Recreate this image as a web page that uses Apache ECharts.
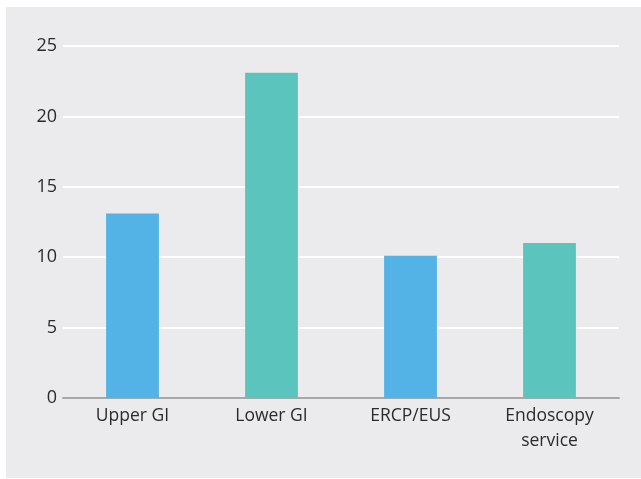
<!DOCTYPE html>
<html><head><meta charset="utf-8">
<script src="https://cdn.jsdelivr.net/npm/echarts@6/dist/echarts.min.js"></script>
<style>
html,body{margin:0;padding:0;background:#fff;}
#panel{position:absolute;left:6px;top:7px;width:635px;height:471px;background:#ebebed;}
#c{position:absolute;left:0;top:0;width:641px;height:479px;}
</style></head>
<body><div id="panel"></div><div id="c"></div>
<script>
const categories = ["Upper GI", "Lower GI", "ERCP/EUS", "Endoscopy\nservice"];
const values = [13.1, 23.1, 10.1, 11];
const barColors = ["#53b3e6", "#5bc5bd", "#53b3e6", "#5bc5bd"];
const yTicks = { min: 0, max: 25, interval: 5 };

const chart = echarts.init(document.getElementById('c'), null, {renderer: 'canvas'});
chart.setOption({
  backgroundColor: 'transparent',
  animation: false,
  grid: { left: 63, right: 22, top: 46, bottom: 81, containLabel: false },
  xAxis: {
    type: 'category', data: categories,
    axisLine: { lineStyle: { color: '#a8a8a8', width: 2 } },
    axisTick: { show: false },
    axisLabel: { color: '#2b2b2b', fontSize: 17.5, fontFamily: 'Open Sans', margin: 6, lineHeight: 25 }
  },
  yAxis: {
    type: 'value', min: yTicks.min, max: yTicks.max, interval: yTicks.interval,
    axisLine: { show: false }, axisTick: { show: false },
    splitLine: { lineStyle: { color: '#ffffff', width: 2 } },
    axisLabel: { color: '#2b2b2b', fontSize: 18, fontFamily: 'Open Sans', margin: 6 }
  },
  series: [{
    type: 'bar', barWidth: '38%',
    data: values.map((v, i) => ({ value: v, itemStyle: { color: barColors[i] } }))
  }]
});
</script></body></html>
